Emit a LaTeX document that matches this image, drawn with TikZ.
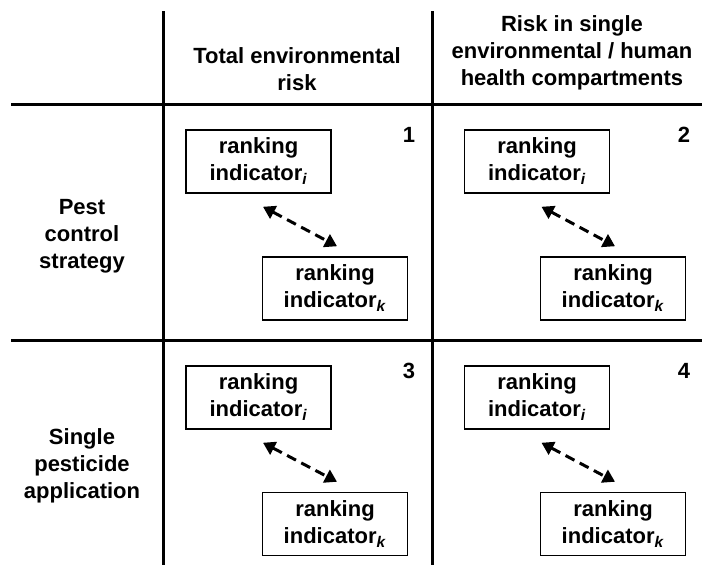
\documentclass[tikz,border=0pt]{standalone}
\usepackage{fontspec}
\setmainfont{Liberation Sans}
\usetikzlibrary{arrows.meta}
\begin{document}
\begin{tikzpicture}[x=1pt,y=-1pt,
        font=\fontsize{22}{27}\selectfont\bfseries,
        gridline/.style={line width=3pt},
        rankbox/.style={draw,line width=1.5pt,minimum width=145pt,minimum height=63pt,align=center,inner sep=0pt},
        heading/.style={align=center,inner sep=0pt},
        compare/.style={{Triangle[length=12pt,width=14pt]}-{Triangle[length=12pt,width=14pt]},line width=3pt,dash pattern=on 10pt off 6pt}]
        \useasboundingbox (0,0) rectangle (702,565);

        % grid
        \draw[gridline] (163,11) -- (163,565);
        \draw[gridline] (432,11) -- (432,565);
        \draw[gridline] (11,104) -- (702,104);
        \draw[gridline] (11,340) -- (702,340);

        % headings
        \node[heading] (total) at (297,69) {Total environmental\\risk};
        \node[heading] (single) at (572,53) {Risk in single\\environmental / human\\health compartments};
        \node[heading] (pest) at (82,236) {Pest\\control\\strategy};
        \node[heading] (appl) at (82,466) {Single\\pesticide\\application};

        % cell 1
        \node at (409,135) (n1) {1};
        \node[rankbox] (ri1) at (258.5,161.5) {ranking\\indicator\textsubscript{\textit{i}}};
        \node[rankbox] (rk1) at (335,288.5) {ranking\\indicator\textsubscript{\textit{k}}};
        \coordinate (a1) at ([shift={(4.5,13)}]ri1.south);
        \coordinate (b1) at ([shift={(2,-10)}]rk1.north);
        \draw[compare] (a1) -- (b1);

        % cell 2
        \node at (684,135) (n2) {2};
        \node[rankbox] (ri2) at (537,161.5) {ranking\\indicator\textsubscript{\textit{i}}};
        \node[rankbox] (rk2) at (613,288.5) {ranking\\indicator\textsubscript{\textit{k}}};
        \coordinate (a2) at ([shift={(4.5,13)}]ri2.south);
        \coordinate (b2) at ([shift={(2,-10)}]rk2.north);
        \draw[compare] (a2) -- (b2);

        % cell 3
        \node at (409,371) (n3) {3};
        \node[rankbox] (ri3) at (258.5,397.5) {ranking\\indicator\textsubscript{\textit{i}}};
        \node[rankbox] (rk3) at (335,524) {ranking\\indicator\textsubscript{\textit{k}}};
        \coordinate (a3) at ([shift={(4.5,13)}]ri3.south);
        \coordinate (b3) at ([shift={(2,-10)}]rk3.north);
        \draw[compare] (a3) -- (b3);

        % cell 4
        \node at (684,371) (n4) {4};
        \node[rankbox] (ri4) at (537,397.5) {ranking\\indicator\textsubscript{\textit{i}}};
        \node[rankbox] (rk4) at (613,524) {ranking\\indicator\textsubscript{\textit{k}}};
        \coordinate (a4) at ([shift={(4.5,13)}]ri4.south);
        \coordinate (b4) at ([shift={(2,-10)}]rk4.north);
        \draw[compare] (a4) -- (b4);

    \end{tikzpicture}
\end{document}
